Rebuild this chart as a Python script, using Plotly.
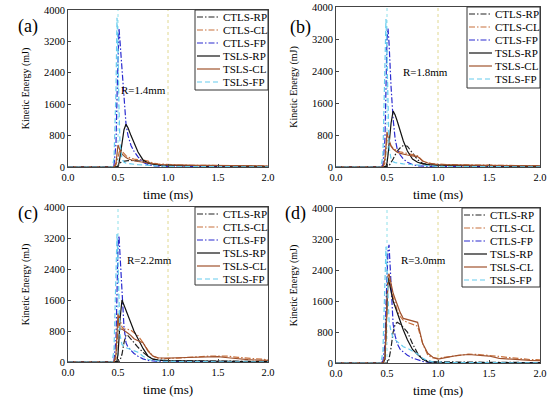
import plotly.graph_objects as go

# shared time grid (ms)
T = [0, .44, .46, .48, .49, .50, .51, .52, .54, .56, .58, .60, .63, .66, .70, .75, .80, .85, .90, .95,
     1.0, 1.1, 1.2, 1.3, 1.4, 1.5, 1.6, 1.7, 1.8, 1.9, 2.0]

series_names = ["CTLS-RP", "CTLS-CL", "CTLS-FP", "TSLS-RP", "TSLS-CL", "TSLS-FP"]
panel_labels = ["(a)", "(b)", "(c)", "(d)"]
radius_labels = ["R=1.4mm", "R=1.8mm", "R=2.2mm", "R=3.0mm"]
x_ticks = [0.0, 0.5, 1.0, 1.5, 2.0]
y_ticks = [0, 800, 1600, 2400, 3200, 4000]

# (a) R=1.4mm
a_CTLS_RP = [0,0,0,0,5,20,60,100,140,150,155,160,165,165,160,150,110,70,50,40,35,30,25,20,18,15,12,10,10,8,8]
a_CTLS_CL = [0,0,0,50,150,300,420,450,400,340,290,250,220,200,190,180,150,100,80,70,60,50,45,40,40,35,35,30,30,30,25]
a_CTLS_FP = [0,0,50,600,1800,3000,3530,3200,2400,1700,1100,800,550,400,260,120,60,30,20,15,10,8,5,5,5,5,5,5,5,5,5]
a_TSLS_RP = [0,0,0,0,0,20,100,250,600,950,1090,1000,800,600,380,180,100,70,55,50,45,40,35,30,25,20,18,15,12,10,10]
a_TSLS_CL = [0,0,0,100,350,560,500,420,330,280,240,210,180,160,140,120,100,80,70,60,55,50,45,40,40,35,35,30,30,30,25]
a_TSLS_FP = [0,0,200,2000,3800,3000,1500,600,200,120,100,90,80,70,60,50,40,30,25,20,15,10,10,8,8,5,5,5,5,5,5]

# (b) R=1.8mm
b_CTLS_RP = [0,0,0,0,0,0,10,30,100,200,300,400,480,540,520,350,180,90,60,45,40,35,30,30,25,25,20,20,20,15,15]
b_CTLS_CL = [0,0,0,100,400,700,680,620,530,470,430,400,380,360,340,310,280,150,100,80,70,60,55,50,45,40,40,35,35,30,30]
b_CTLS_FP = [0,0,50,700,2000,3200,3460,3100,2000,1200,700,450,300,200,120,60,30,20,15,10,10,8,5,5,5,5,5,5,5,5,5]
b_TSLS_RP = [0,0,0,0,20,100,300,600,1100,1400,1300,1150,900,650,400,200,120,80,60,50,45,40,35,30,28,25,22,20,18,15,15]
b_TSLS_CL = [0,0,0,200,600,880,750,650,520,450,400,370,340,320,300,280,260,150,100,80,60,55,50,45,45,40,40,35,35,30,30]
b_TSLS_FP = [0,0,300,2200,3700,2800,1300,500,200,130,110,100,90,80,70,60,40,30,25,20,15,10,10,8,8,5,5,5,5,5,5]

# (c) R=2.2mm
c_CTLS_RP = [0,0,0,0,0,0,10,40,200,500,700,680,600,500,380,250,150,80,50,40,35,30,28,25,25,22,20,20,18,15,15]
c_CTLS_CL = [0,0,0,100,500,1000,1200,1100,900,850,850,840,820,750,680,500,300,150,100,90,90,100,120,140,150,150,150,120,100,80,60]
c_CTLS_FP = [0,0,50,600,1800,3000,3250,2800,1600,900,500,380,300,220,150,80,40,20,15,10,10,8,5,5,5,5,5,5,5,5,5]
c_TSLS_RP = [0,0,0,0,30,200,600,1100,1600,1450,1300,1200,1000,800,600,350,150,70,50,40,35,30,28,25,22,20,18,15,15,12,10]
c_TSLS_CL = [0,0,0,200,800,1250,1000,850,850,820,780,740,680,600,550,500,280,150,110,100,100,110,120,130,140,140,110,80,60,50,40]
c_TSLS_FP = [0,0,300,2000,3300,2600,1400,700,450,400,370,350,320,290,250,150,70,40,25,20,15,10,10,8,8,5,5,5,5,5,5]

# (d) R=3.0mm
d_CTLS_RP = [0,0,0,0,0,0,20,100,400,800,1000,1050,1000,920,800,500,250,100,50,35,30,28,25,22,20,18,15,15,12,10,10]
d_CTLS_CL = [0,0,0,100,600,1500,2100,2200,1900,1700,1550,1350,1200,1100,1050,1000,950,500,200,130,120,160,200,230,220,200,170,140,110,90,80]
d_CTLS_FP = [0,0,50,500,1500,2500,2900,3050,1800,1000,700,500,350,280,200,130,80,40,20,15,10,8,5,5,5,5,5,5,5,5,5]
d_TSLS_RP = [0,0,0,100,800,1800,2200,2100,1800,1600,1450,1300,1050,850,600,350,220,100,30,20,15,12,10,10,8,8,5,5,5,5,5]
d_TSLS_CL = [0,0,0,150,800,1800,2250,2300,2000,1800,1650,1500,1300,1150,1120,1080,1050,500,250,150,100,150,200,220,200,180,120,100,80,70,60]
d_TSLS_FP = [0,0,300,1800,3000,2400,1500,1100,800,650,600,550,480,420,380,300,230,120,60,30,20,15,10,8,8,5,5,5,5,5,5]

panels = [
    [a_CTLS_RP, a_CTLS_CL, a_CTLS_FP, a_TSLS_RP, a_TSLS_CL, a_TSLS_FP],
    [b_CTLS_RP, b_CTLS_CL, b_CTLS_FP, b_TSLS_RP, b_TSLS_CL, b_TSLS_FP],
    [c_CTLS_RP, c_CTLS_CL, c_CTLS_FP, c_TSLS_RP, c_TSLS_CL, c_TSLS_FP],
    [d_CTLS_RP, d_CTLS_CL, d_CTLS_FP, d_TSLS_RP, d_TSLS_CL, d_TSLS_FP],
]

DASHDOT = "6px,2px,1.5px,2px"
styles = [
    dict(color="#222222", dash=DASHDOT),
    dict(color="#c8703c", dash=DASHDOT),
    dict(color="#2a2ad0", dash=DASHDOT),
    dict(color="#111111", dash="solid"),
    dict(color="#a0522d", dash="solid"),
    dict(color="#66ccee", dash="5px,3px"),
]

W, H = 550, 399
# plot area boxes in pixels: (left, right, top, bottom)
boxes = [(68, 268, 10, 167), (336, 540, 7, 167), (68, 268, 207, 362), (336, 540, 208, 363)]
# legend boxes in pixels: (left, top, right, bottom)
leg_boxes = [(195, 10, 268, 90), (467, 7, 540, 88), (195, 207, 268, 285), (462, 208, 540, 287)]
r_pos = [(0.75, 1960), (0.88, 2380), (0.81, 2630), (0.86, 2660)]
label_pos = [(16, 14), (300, 15), (16, 213), (295, 213)]

FONT = "Liberation Serif, Times New Roman, Times, serif"
fig = go.Figure()
layout = dict(width=W, height=H, margin=dict(l=0, r=0, t=0, b=0, autoexpand=False),
              paper_bgcolor="white", plot_bgcolor="white",
              font=dict(family=FONT, size=11, color="black"), showlegend=False)
annotations = []
shapes = []


def px_x(p):
    return p / W


def px_y(p):
    return 1 - p / H


for i, (vals, box) in enumerate(zip(panels, boxes)):
    n = i + 1
    xa = "xaxis" if n == 1 else f"xaxis{n}"
    ya = "yaxis" if n == 1 else f"yaxis{n}"
    xr = "x" if n == 1 else f"x{n}"
    yr = "y" if n == 1 else f"y{n}"
    l, r, t, b = box
    for name, v, st in zip(series_names, vals, styles):
        fig.add_trace(go.Scatter(x=T, y=v, mode="lines", name=name,
                                 line=dict(color=st["color"], dash=st["dash"], width=1.2),
                                 xaxis=xr, yaxis=yr))
    layout[xa] = dict(domain=[l / W, r / W], range=[0, 2.0], tickvals=x_ticks,
                      ticktext=[f"{v:.1f}" for v in x_ticks], anchor=yr, automargin=False,
                      showline=True, linecolor="#444", linewidth=1, mirror=True,
                      ticks="inside", ticklen=3, tickcolor="#444", showgrid=False, zeroline=False,
                      tickfont=dict(family=FONT, size=10.5),
                      title=dict(text="time (ms)", font=dict(family=FONT, size=13), standoff=8))
    layout[ya] = dict(domain=[1 - b / H, 1 - t / H], range=[0, 4000], tickvals=y_ticks, anchor=xr,
                      automargin=False,
                      showline=True, linecolor="#444", linewidth=1, mirror=True,
                      ticks="inside", ticklen=3, tickcolor="#444", showgrid=False, zeroline=False,
                      tickfont=dict(family=FONT, size=10.5),
                      title=dict(text="Kinetic Energy (mJ)", font=dict(family=FONT, size=10), standoff=12))
    shapes.append(dict(type="line", xref=xr, yref=f"{yr} domain", x0=0.5, x1=0.5, y0=0, y1=1,
                       line=dict(color="#8fe0ea", width=1, dash="dot"), layer="below"))
    shapes.append(dict(type="line", xref=xr, yref=f"{yr} domain", x0=1.0, x1=1.0, y0=0, y1=1,
                       line=dict(color="#e0d890", width=1, dash="dot"), layer="below"))
    # legend drawn manually (compact, like the original)
    ll, lt, lr, lb = leg_boxes[i]
    shapes.append(dict(type="rect", xref="paper", yref="paper", x0=px_x(ll), x1=px_x(lr),
                       y0=px_y(lb), y1=px_y(lt), fillcolor="white",
                       line=dict(color="#333", width=1), layer="above"))
    for k, (name, st) in enumerate(zip(series_names, styles)):
        ey = lt + 7 + 13 * k
        shapes.append(dict(type="line", xref="paper", yref="paper", x0=px_x(ll + 2), x1=px_x(ll + 25),
                           y0=px_y(ey), y1=px_y(ey), layer="above",
                           line=dict(color=st["color"], dash=st["dash"], width=1.2)))
        annotations.append(dict(x=px_x(ll + 26), y=px_y(ey), xref="paper", yref="paper", text=name,
                                xanchor="left", yanchor="middle", showarrow=False,
                                font=dict(family=FONT, size=11)))
    rx, ry = r_pos[i]
    annotations.append(dict(x=rx, y=ry, xref=xr, yref=yr, text=radius_labels[i], showarrow=False,
                            font=dict(family=FONT, size=11)))
    px, py = label_pos[i]
    annotations.append(dict(x=px / W, y=1 - py / H, xref="paper", yref="paper", text=panel_labels[i],
                            showarrow=False, font=dict(family=FONT, size=18)))

layout["annotations"] = annotations
layout["shapes"] = shapes
fig.update_layout(**layout)
fig.write_html("out.html", config={"displayModeBar": False},
               post_script="document.body.style.margin='0';document.body.style.overflow='hidden';")
